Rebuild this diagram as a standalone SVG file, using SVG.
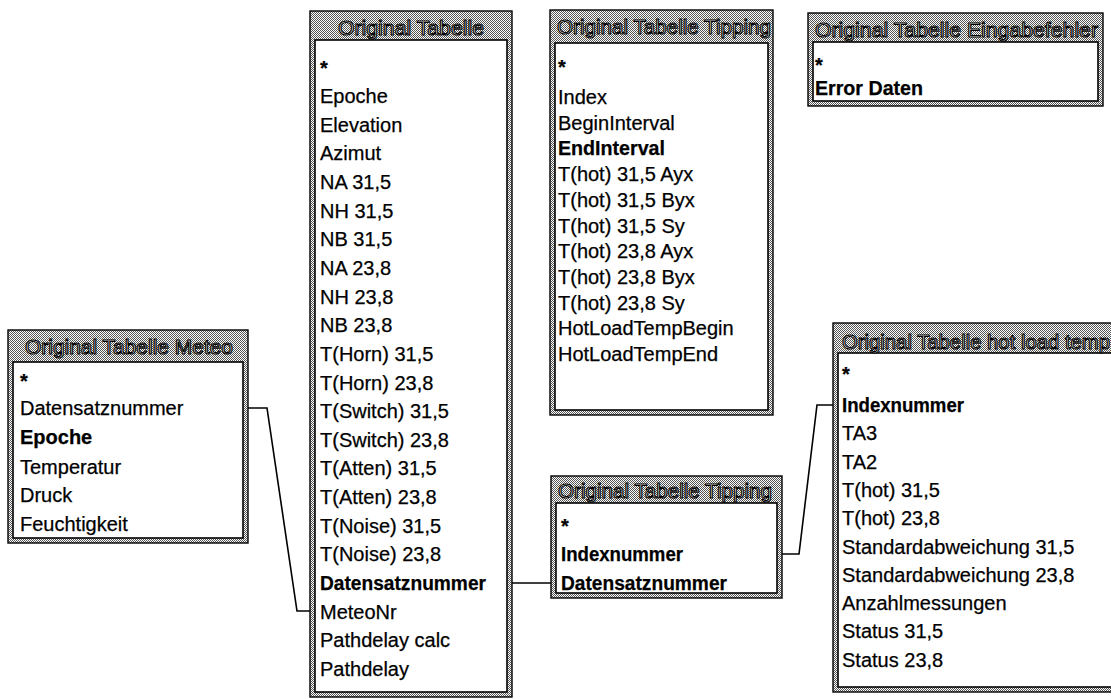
<svg xmlns="http://www.w3.org/2000/svg" width="1111" height="699" viewBox="0 0 1111 699">
<defs>
<pattern id="dither" patternUnits="userSpaceOnUse" width="2" height="2">
<rect width="2" height="2" fill="#fff"/>
<rect width="1" height="1" fill="#555"/>
<rect x="1" y="1" width="1" height="1" fill="#555"/>
</pattern>
<style>
.frame{fill:url(#dither);stroke:#000;stroke-width:1.4}
.body{fill:#fff;stroke:#000;stroke-width:1.6}
.hd{font-family:"Liberation Sans",Arial,sans-serif;font-size:20px;fill:#f4f4f4;stroke:#000;stroke-width:1.1}
.f{font-family:"Liberation Sans",Arial,sans-serif;font-size:20px;fill:#000;stroke:#000;stroke-width:0.25}
.b{font-weight:bold}
.conn{fill:none;stroke:#000;stroke-width:1.6}
</style>
</defs>
<rect width="1111" height="699" fill="#fff"/>

<g id="connectors">
<path class="conn" d="M248 408 H267 L297 611 H310"/>
<path class="conn" d="M512 583 H551"/>
<path class="conn" d="M782 554 H799 L817 405 H833"/>
</g>

<g id="meteo">
<rect class="frame" x="8" y="330" width="240" height="213"/>
<rect class="body" x="13" y="362" width="230" height="176"/>
<text class="hd" x="25" y="354" textLength="208" lengthAdjust="spacingAndGlyphs">Original Tabelle Meteo</text>
<text class="f b" x="20" y="388">*</text>
<text class="f" x="20" y="415">Datensatznummer</text>
<text class="f b" x="20" y="444">Epoche</text>
<text class="f" x="20" y="474">Temperatur</text>
<text class="f" x="20" y="502">Druck</text>
<text class="f" x="20" y="531">Feuchtigkeit</text>
</g>

<g id="original">
<rect class="frame" x="310" y="11" width="202" height="686"/>
<rect class="body" x="315" y="40" width="192" height="652"/>
<text class="hd" x="338" y="35" textLength="146" lengthAdjust="spacingAndGlyphs">Original Tabelle</text>
<text class="f b" x="320" y="75">*</text>
<text class="f" x="320" y="103">Epoche</text>
<text class="f" x="320" y="132">Elevation</text>
<text class="f" x="320" y="160">Azimut</text>
<text class="f" x="320" y="189">NA 31,5</text>
<text class="f" x="320" y="218">NH 31,5</text>
<text class="f" x="320" y="246">NB 31,5</text>
<text class="f" x="320" y="275">NA 23,8</text>
<text class="f" x="320" y="304">NH 23,8</text>
<text class="f" x="320" y="332">NB 23,8</text>
<text class="f" x="320" y="361">T(Horn) 31,5</text>
<text class="f" x="320" y="390">T(Horn) 23,8</text>
<text class="f" x="320" y="418">T(Switch) 31,5</text>
<text class="f" x="320" y="447">T(Switch) 23,8</text>
<text class="f" x="320" y="475">T(Atten) 31,5</text>
<text class="f" x="320" y="504">T(Atten) 23,8</text>
<text class="f" x="320" y="533">T(Noise) 31,5</text>
<text class="f" x="320" y="561">T(Noise) 23,8</text>
<text class="f b" x="320" y="590" textLength="166" lengthAdjust="spacingAndGlyphs">Datensatznummer</text>
<text class="f" x="320" y="619">MeteoNr</text>
<text class="f" x="320" y="647">Pathdelay calc</text>
<text class="f" x="320" y="676">Pathdelay</text>
</g>

<g id="tipping">
<rect class="frame" x="550" y="10" width="223" height="405"/>
<rect class="body" x="555" y="43" width="213" height="367"/>
<text class="hd" x="557" y="34" textLength="214" lengthAdjust="spacingAndGlyphs">Original Tabelle Tipping</text>
<text class="f b" x="558" y="74">*</text>
<text class="f" x="558" y="104">Index</text>
<text class="f" x="558" y="130">BeginInterval</text>
<text class="f b" x="558" y="155" textLength="107" lengthAdjust="spacingAndGlyphs">EndInterval</text>
<text class="f" x="558" y="181">T(hot) 31,5 Ayx</text>
<text class="f" x="558" y="207">T(hot) 31,5 Byx</text>
<text class="f" x="558" y="233">T(hot) 31,5 Sy</text>
<text class="f" x="558" y="258">T(hot) 23,8 Ayx</text>
<text class="f" x="558" y="284">T(hot) 23,8 Byx</text>
<text class="f" x="558" y="310">T(hot) 23,8 Sy</text>
<text class="f" x="558" y="335">HotLoadTempBegin</text>
<text class="f" x="558" y="361">HotLoadTempEnd</text>
</g>

<g id="eingabefehler">
<rect class="frame" x="808" y="13" width="295" height="93"/>
<rect class="body" x="813" y="42" width="285" height="59"/>
<text class="hd" x="815" y="37" textLength="283" lengthAdjust="spacingAndGlyphs">Original Tabelle Eingabefehler</text>
<text class="f b" x="815" y="72">*</text>
<text class="f b" x="815" y="95" textLength="108" lengthAdjust="spacingAndGlyphs">Error Daten</text>
</g>

<g id="tipping2">
<rect class="frame" x="551" y="476" width="231" height="122"/>
<rect class="body" x="556" y="503" width="221" height="90"/>
<text class="hd" x="558" y="498" textLength="214" lengthAdjust="spacingAndGlyphs">Original Tabelle Tipping</text>
<text class="f b" x="561" y="533">*</text>
<text class="f b" x="561" y="561" textLength="122" lengthAdjust="spacingAndGlyphs">Indexnummer</text>
<text class="f b" x="561" y="590" textLength="166" lengthAdjust="spacingAndGlyphs">Datensatznummer</text>
</g>

<g id="hotload">
<rect class="frame" x="833" y="323" width="300" height="369"/>
<rect class="body" x="838" y="353" width="300" height="334"/>
<text class="hd" x="842" y="349" textLength="268" lengthAdjust="spacingAndGlyphs">Original Tabelle hot load temp</text>
<text class="f b" x="842" y="381">*</text>
<text class="f b" x="842" y="412" textLength="122" lengthAdjust="spacingAndGlyphs">Indexnummer</text>
<text class="f" x="842" y="440">TA3</text>
<text class="f" x="842" y="469">TA2</text>
<text class="f" x="842" y="497">T(hot) 31,5</text>
<text class="f" x="842" y="525">T(hot) 23,8</text>
<text class="f" x="842" y="554">Standardabweichung 31,5</text>
<text class="f" x="842" y="582">Standardabweichung 23,8</text>
<text class="f" x="842" y="610">Anzahlmessungen</text>
<text class="f" x="842" y="638">Status 31,5</text>
<text class="f" x="842" y="667">Status 23,8</text>
</g>
</svg>
